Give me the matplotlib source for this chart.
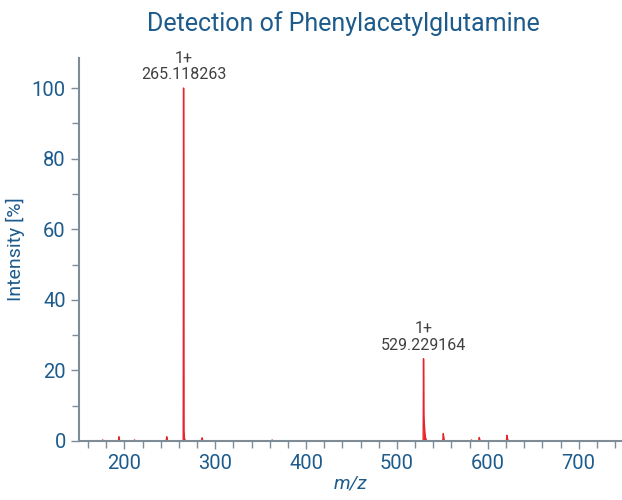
import matplotlib.pyplot as plt
from matplotlib.ticker import MultipleLocator

# profile spectrum (m/z, relative intensity %)
mz = [150, 175.6, 176.1, 176.6, 193.4, 194.0, 194.7, 210.6, 211.1, 211.6,
      246.0, 246.6, 247.3, 264.7, 265.118263, 265.5, 266.1, 266.5, 267.0,
      285.0, 285.6, 286.3, 362.0, 362.6, 363.2, 528.8, 529.229164, 529.6,
      530.2, 530.6, 531.2, 532.0, 533.0, 550.4, 551.0, 551.4, 552.0,
      581.4, 582.0, 582.6, 590.0, 590.6, 591.4, 620.4, 621.0, 621.5, 622.4, 750]
inten = [0, 0, 0.3, 0, 0, 1.2, 0, 0, 0.3, 0,
         0, 1.2, 0, 0, 100, 3, 0.8, 0.4, 0,
         0, 0.9, 0, 0, 0.3, 0, 0, 23.3, 7,
         4.5, 2.5, 1.2, 0.4, 0, 0, 2.1, 1.2, 0,
         0, 0.3, 0, 0, 1.0, 0, 0, 1.6, 0.8, 0, 0]

peak_mz = [265.118263, 529.229164]
peak_int = [100, 23.3]
peak_labels = ["1+\n265.118263", "1+\n529.229164"]

blue = "#1d5b8c"
grey = "#7d8c96"
red = "#e8232b"

plt.rcParams['font.family'] = ['Roboto', 'DejaVu Sans']

fig = plt.figure(figsize=(6.22, 5.0), dpi=100)
ax = fig.add_axes([0.127, 0.118, 0.872, 0.766])

ax.fill_between(mz, inten, 0, color=red, lw=0)
ax.plot(mz, inten, color=red, lw=1.0)

for x, y, lab in zip(peak_mz, peak_int, peak_labels):
    ax.annotate(lab, (x, y), xytext=(0, 4), textcoords="offset points",
                ha="center", va="bottom", fontsize=11.5, color="#404040",
                linespacing=1.15)

ax.set_xlim(150, 747)
ax.set_ylim(0, 108.5)
ax.xaxis.set_major_locator(MultipleLocator(100))
ax.xaxis.set_minor_locator(MultipleLocator(20))
ax.yaxis.set_major_locator(MultipleLocator(20))
ax.yaxis.set_minor_locator(MultipleLocator(10))

for s in ("top", "right"):
    ax.spines[s].set_visible(False)
for s in ("left", "bottom"):
    ax.spines[s].set_color(grey)
    ax.spines[s].set_linewidth(1.5)

ax.tick_params(which="both", colors=grey, labelcolor=blue, labelsize=14.5)
ax.tick_params(which="major", length=6, width=1)
ax.tick_params(which="minor", length=5, width=1)

ax.set_xlabel("m/z", fontsize=14, color=blue, style="italic", labelpad=1)
ax.set_ylabel("Intensity [%]", fontsize=14, color=blue, labelpad=5)
fig.text(0.552, 0.952, "Detection of Phenylacetylglutamine", ha="center",
         va="center", fontsize=18, color=blue)

fig.savefig("out.png", dpi=100)
